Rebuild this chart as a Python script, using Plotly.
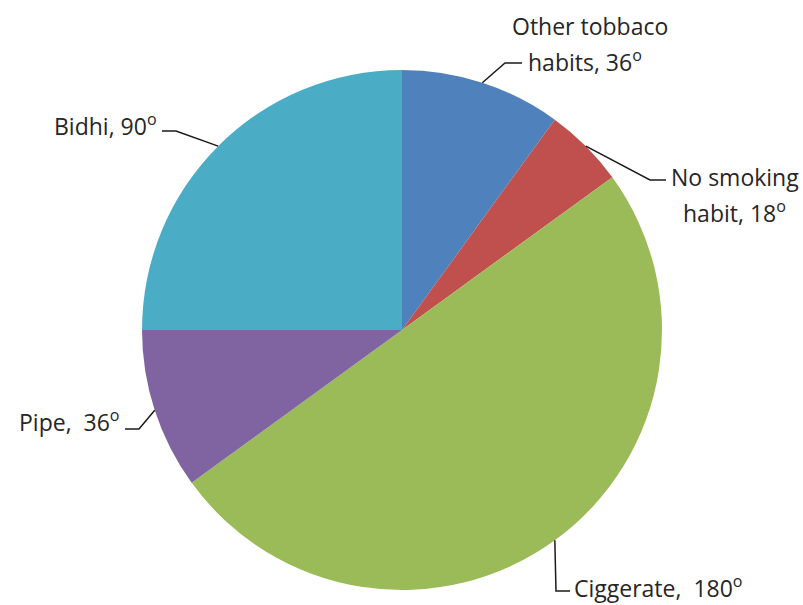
import math
import plotly.graph_objects as go

categories = ["Other tobbaco habits", "No smoking habit", "Ciggerate", "Pipe", "Bidhi"]
degrees = [36, 18, 180, 36, 90]
colors = ["#4F81BD", "#C0504D", "#9BBB59", "#8064A2", "#4BACC6"]

W, H = 803, 605
CX, CY, R = 402, 330, 260

def px(x):
    return x / W

def py(y):
    return 1 - y / H

fig = go.Figure(go.Pie(
    labels=categories,
    values=degrees,
    marker=dict(colors=colors, line=dict(width=0)),
    sort=False,
    direction="clockwise",
    rotation=0,
    textinfo="none",
    hoverinfo="label+value",
    showlegend=False,
    domain=dict(x=[px(CX - R), px(CX + R)], y=[py(CY + R), py(CY - R)]),
))

label_layout = [
    {"lines": [("Other tobbaco", 590, 26, "center"), ("habits, {}<sup>o</sup>", 526, 61, "left")],
     "elbow": (505, 63), "tail": (522, 63)},
    {"lines": [("No smoking", 669, 177, "left"), ("habit, {}<sup>o</sup>", 734, 212, "center")],
     "elbow": (650, 180), "tail": (666, 180)},
    {"lines": [("Ciggerate,  {}<sup>o</sup>", 572, 587, "left")],
     "elbow": (556, 591), "tail": (570, 591)},
    {"lines": [("Pipe,  {}<sup>o</sup>", 122, 421, "right")],
     "elbow": (139, 429), "tail": (125, 429)},
    {"lines": [("Bidhi, {}<sup>o</sup>", 159, 125, "right")],
     "elbow": (176, 131), "tail": (162, 131)},
]

annotations = []
shapes = []
total = sum(degrees)
start = 0.0
for val, lay in zip(degrees, label_layout):
    mid = start + val / total * 360 / 2
    start += val / total * 360
    a = math.radians(mid)
    ex = CX + R * math.sin(a)
    ey = CY - R * math.cos(a)
    bx, by = lay["elbow"]
    tx, ty = lay["tail"]
    shapes.append(dict(
        type="path", xref="paper", yref="paper",
        path=f"M {px(ex)} {py(ey)} L {px(bx)} {py(by)} L {px(tx)} {py(ty)}",
        line=dict(color="#1a1a1a", width=1.5),
    ))
    for text, x, y, anchor in lay["lines"]:
        annotations.append(dict(
            text=text.format(val), x=px(x), y=py(y), xref="paper", yref="paper",
            xanchor=anchor, yanchor="middle", showarrow=False,
            font=dict(family="Open Sans", size=23, color="#262626"),
        ))

fig.update_layout(
    width=W, height=H,
    margin=dict(l=0, r=0, t=0, b=0),
    paper_bgcolor="white",
    plot_bgcolor="white",
    annotations=annotations,
    shapes=shapes,
)

fig.write_html(
    "out.html",
    config={"displayModeBar": False},
    post_script="document.body.style.margin='0';document.body.style.padding='0';",
)
